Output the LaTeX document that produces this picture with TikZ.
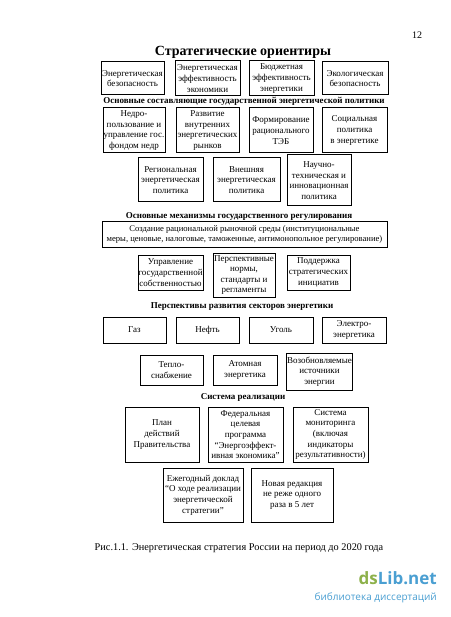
\documentclass[tikz,border=0pt]{standalone}
\usepackage{fontspec}
\setmainfont{Liberation Serif}
\newfontfamily\wmfont{Open Sans}
\definecolor{wmgreen}{HTML}{8DB14B}
\definecolor{wmblue}{HTML}{4A9FD2}
\begin{document}
\begin{tikzpicture}[x=1pt,y=-1pt,
  bx/.style={draw=black,line width=1pt,inner sep=0.3pt,align=center,
    font=\fontsize{9}{10.6}\selectfont},
  hd/.style={inner sep=0pt,font=\bfseries\fontsize{9}{10}\selectfont},
]
\useasboundingbox[fill=white] (0,0) rectangle (450,617);
\node[inner sep=0pt,font=\fontsize{10}{12}\selectfont] (pg) at (417,35) {12};
\node[inner sep=0pt,font=\bfseries\fontsize{14}{16}\selectfont] (title) at (243,52) {Стратегические ориентиры};
% row 1
\node[bx,minimum width=63,minimum height=33] (a1) at (132.5,78.5) {Энергетическая\\безопасность};
\node[bx,minimum width=65,minimum height=35] (a2) at (207.5,78.5) {Энергетическая\\эффективность\\экономики};
\node[bx,minimum width=65,minimum height=35] (a3) at (281.5,78.5) {Бюджетная\\эффективность\\энергетики};
\node[bx,minimum width=66,minimum height=33] (a4) at (355,78.5) {Экологическая\\безопасность};
\node[hd] (h2) at (244,101) {Основные составляющие государственной энергетической политики};
% row 2
\node[bx,minimum width=62,minimum height=45] (b1) at (134,130.5) {Недро-\\пользование и\\управление гос.\\фондом недр};
\node[bx,minimum width=63,minimum height=45] (b2) at (207.5,130.5) {Развитие\\внутренних\\энергетических\\рынков};
\node[bx,minimum width=64,minimum height=45] (b3) at (281,130.5) {Формирование\\рационального\\ТЭБ};
\node[bx,minimum width=65,minimum height=45] (b4) at (354.5,130.5) {Социальная\\политика\\в энергетике};
% row 3
\node[bx,minimum width=65,minimum height=44] (c1) at (170.5,180) {Региональная\\энергетическая\\политика};
\node[bx,minimum width=67,minimum height=44] (c2) at (246.5,180) {Внешняя\\энергетическая\\политика};
\node[bx,minimum width=64,minimum height=51] (c3) at (319,180.5) {Научно-\\техническая и\\инновационная\\политика};
\node[hd] (h3) at (239,216) {Основные механизмы государственного регулирования};
% mechanisms
\node[bx,minimum width=285,minimum height=25,font=\fontsize{8.6}{10.3}\selectfont] (d0) at (244.5,234.5) {Создание рациональной рыночной среды (институциональные\\меры, ценовые, налоговые, таможенные, антимонопольное регулирование)};
\node[bx,minimum width=65,minimum height=35] (d1) at (170.5,272.5) {Управление\\государственной\\собственностью};
\node[bx,minimum width=62,minimum height=44] (d2) at (244,275) {Перспективные\\нормы,\\стандарты и\\регламенты};
\node[bx,minimum width=63,minimum height=35] (d3) at (318.5,272.5) {Поддержка\\стратегических\\инициатив};
\node[hd] (h4) at (242,307) {Перспективы развития секторов энергетики};
% sectors
\node[bx,minimum width=63,minimum height=26] (e1) at (134.5,330) {Газ};
\node[bx,minimum width=63,minimum height=26] (e2) at (207.5,330) {Нефть};
\node[bx,minimum width=64,minimum height=26] (e3) at (281,330) {Уголь};
\node[bx,minimum width=64,minimum height=26] (e4) at (354,330) {Электро-\\энергетика};
\node[bx,minimum width=63,minimum height=30] (f1) at (171.5,370) {Тепло-\\снабжение};
\node[bx,minimum width=64,minimum height=30] (f2) at (245,370) {Атомная\\энергетика};
\node[bx,minimum width=65,minimum height=37] (f3) at (319.5,371.5) {Возобновляемые\\источники\\энергии};
\node[hd] (h5) at (243,397) {Система реализации};
% realization
\node[bx,minimum width=74,minimum height=55] (g1) at (162,434.5) {План\\действий\\Правительства};
\node[bx,minimum width=75,minimum height=55] (g2) at (245.5,434.5) {Федеральная\\целевая\\программа\\“Энергоэффект-\\ивная экономика”};
\node[bx,minimum width=75,minimum height=55] (g3) at (330.5,434.5) {Система\\мониторинга\\(включая\\индикаторы\\результативности)};
\node[bx,minimum width=80,minimum height=54] (k1) at (203,495) {Ежегодный доклад\\“О ходе реализации\\энергетической\\стратегии”};
\node[bx,minimum width=82,minimum height=54] (k2) at (292,495) {Новая редакция\\не реже одного\\раза в 5 лет};
\node[inner sep=0pt,font=\fontsize{10.3}{12}\selectfont] (cap) at (239,548) {Рис.1.1. Энергетическая стратегия России на период до 2020 года};
% watermark
\node[inner sep=0pt,anchor=east,font=\wmfont\bfseries\fontsize{17}{18}\selectfont] (wm1) at (437,578) {\textcolor{wmgreen}{ds}\textcolor{wmblue}{Lib.net}};
\node[inner sep=0pt,anchor=east,font=\wmfont\fontsize{10}{12}\selectfont,text=wmblue] (wm2) at (437,598) {библиотека диссертаций};
\end{tikzpicture}
\end{document}
